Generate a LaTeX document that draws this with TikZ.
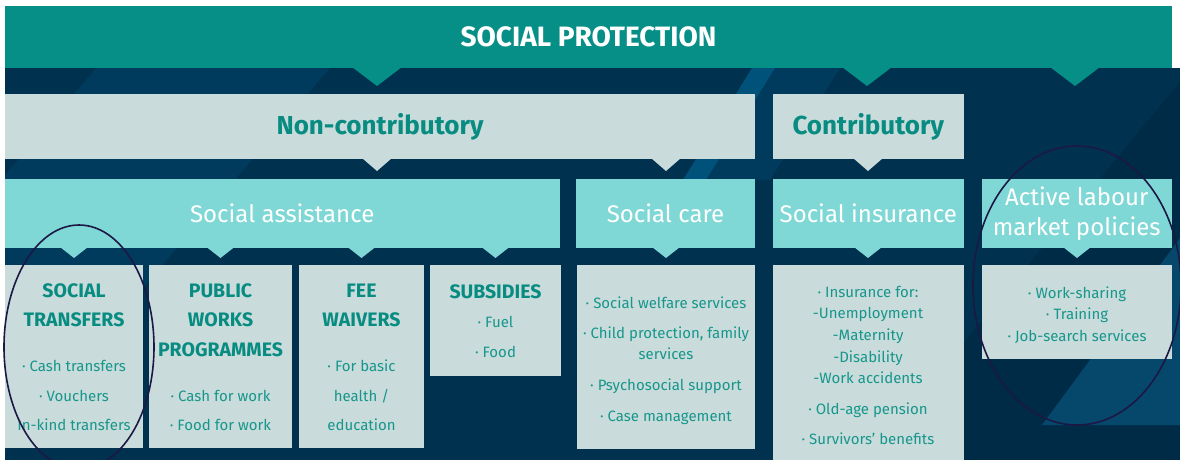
\documentclass[tikz,border=0pt]{standalone}
\usepackage{fontspec}
\setmainfont{Fira Sans}
\definecolor{banner}{RGB}{6,143,135}
\definecolor{navy}{RGB}{0,50,80}
\definecolor{navyd}{RGB}{0,43,71}
\definecolor{navyl}{RGB}{0,58,92}
\definecolor{navyb}{RGB}{0,82,122}
\definecolor{navyt}{RGB}{6,72,108}
\definecolor{pale}{RGB}{201,220,219}
\definecolor{cyanb}{RGB}{127,216,214}
\definecolor{tealtxt}{RGB}{8,140,130}
\definecolor{listtxt}{RGB}{22,150,140}
\definecolor{ringc}{RGB}{28,24,70}
\newcommand\dnptr[5]{\fill[#1] (#2-#4,#3-1) -- (#2+#4,#3-1) -- (#2,#3+#5) -- cycle;}
\begin{document}
\begin{tikzpicture}[x=1pt,y=-1pt,
  box/.style={draw=none, inner sep=0pt, outer sep=0pt, anchor=north west},
  palebox/.style={box, fill=pale, text=tealtxt, font=\bfseries\fontsize{26}{30}\selectfont},
  cyanbox/.style={box, fill=cyanb, text=white, font=\fontsize{24}{30}\selectfont, align=center},
  listbox/.style={box, fill=pale},
  lst/.style={text=listtxt, font=\fontsize{15}{17}\selectfont, anchor=base, inner sep=0pt},
  hd/.style={text=tealtxt, font=\bfseries\fontsize{19.5}{22}\selectfont, anchor=base, inner sep=0pt},
  ring/.style={draw=ringc, line width=1.6pt}]
\useasboundingbox (0,0) rectangle (1180,460);
% background
\fill[navy] (5,68) rectangle (1180,460);
\begin{scope}
\clip (5,68) rectangle (1180,460);
\fill[navyl] (96,68) -- (330,68) -- (-3,460) -- (-237,460) -- cycle;
\fill[navyl] (775,68) -- (840,68) -- (770,180) -- (706,180) -- cycle;
\fill[navyb] (752,68) -- (775,68) -- (706,180) -- (683,180) -- cycle;
\fill[navyd] (1180,82) -- (866,460) -- (1180,460) -- cycle;
\fill[navyt] (1042,425) -- (1180,425) -- (1180,238) -- cycle;
\end{scope}
% top banner
\node[box, fill=banner, text=white, font=\bfseries\fontsize{28}{32}\selectfont,
  minimum width=1167pt, minimum height=62pt] (banner) at (5,6) {SOCIAL PROTECTION};
\dnptr{banner}{377}{68}{25}{18}
\dnptr{banner}{867}{68}{25}{18}
\dnptr{banner}{1075}{68}{25}{18}
% level 2
\node[palebox, minimum width=750pt, minimum height=65pt] (nc) at (5,94) {Non-contributory};
\node[palebox, minimum width=191.5pt, minimum height=65pt] (co) at (772.5,94) {Contributory};
\dnptr{pale}{377}{159}{15}{12}
\dnptr{pale}{666}{159}{15}{12}
\dnptr{pale}{868}{159}{15}{12}
% level 3
\node[cyanbox, minimum width=554.5pt, minimum height=69pt] (sa) at (5,179) {Social assistance};
\node[cyanbox, minimum width=179pt, minimum height=69pt] (sc) at (576,179) {Social care};
\node[cyanbox, minimum width=191.5pt, minimum height=69pt] (si) at (772.5,179) {Social insurance};
\node[cyanbox, minimum width=190.5pt, minimum height=69pt] (al) at (981.5,179) {Active labour\\market policies};
\dnptr{cyanb}{74}{248}{14}{10}
\dnptr{cyanb}{220.5}{248}{14}{10}
\dnptr{cyanb}{361.5}{248}{14}{10}
\dnptr{cyanb}{495.5}{248}{14}{10}
\dnptr{cyanb}{666}{248}{14}{10}
\dnptr{cyanb}{868}{248}{14}{10}
\dnptr{cyanb}{1077}{248}{14}{10}
% level 4 boxes
\node[listbox, minimum width=138pt, minimum height=183pt] (st) at (5,265) {};
\node[listbox, minimum width=143pt, minimum height=183pt] (pw) at (149,265) {};
\node[listbox, minimum width=125pt, minimum height=183pt] (fw) at (299,265) {};
\node[listbox, minimum width=131pt, minimum height=111pt] (sb) at (430,265) {};
\node[listbox, minimum width=178pt, minimum height=184pt] (scl) at (577,265) {};
\node[listbox, minimum width=191.5pt, minimum height=196pt] (sil) at (772.5,265) {};
\node[listbox, minimum width=190.5pt, minimum height=94pt] (all) at (981.5,265) {};
% texts
\foreach \yy/\lbl [count=\i] in {297.5/SOCIAL, 326.5/TRANSFERS}
  \node[hd] (sth\i) at (74,\yy) {\lbl};
\foreach \yy/\lbl [count=\i] in {371/{· Cash transfers}, 401/{· Vouchers}, 430/{In-kind transfers}}
  \node[lst] (stl\i) at (74,\yy) {\lbl};
\foreach \yy/\lbl [count=\i] in {297.5/PUBLIC, 326.5/WORKS, 356.5/PROGRAMMES}
  \node[hd] (pwh\i) at (220.5,\yy) {\lbl};
\foreach \yy/\lbl [count=\i] in {401/{· Cash for work}, 430/{· Food for work}}
  \node[lst] (pwl\i) at (220.5,\yy) {\lbl};
\foreach \yy/\lbl [count=\i] in {297.5/FEE, 326.5/WAIVERS}
  \node[hd] (fwh\i) at (361.5,\yy) {\lbl};
\foreach \yy/\lbl [count=\i] in {371/{· For basic}, 401/{health /}, 430/{education}}
  \node[lst] (fwl\i) at (361.5,\yy) {\lbl};
\node[hd] (sbh) at (495.5,298.5) {SUBSIDIES};
\foreach \yy/\lbl [count=\i] in {327/{· Fuel}, 357/{· Food}}
  \node[lst] (sbl\i) at (495.5,\yy) {\lbl};
\foreach \yy/\lbl [count=\i] in {308/{· Social welfare services}, 338/{· Child protection, family}, 359/{services}, 390/{· Psychosocial support}, 421/{· Case management}}
  \node[lst] (scl\i) at (666,\yy) {\lbl};
\foreach \yy/\lbl [count=\i] in {297/{· Insurance for:}, 318/{-Unemployment}, 340/{-Maternity}, 362/{-Disability}, 383/{-Work accidents}, 414/{· Old-age pension}, 444/{· Survivors’ benefits}}
  \node[lst] (sil\i) at (868,\yy) {\lbl};
\foreach \yy/\lbl [count=\i] in {298/{· Work-sharing}, 319/{· Training}, 341/{· Job-search services}}
  \node[lst] (all\i) at (1077,\yy) {\lbl};
% highlight rings
\begin{scope}
\clip (0,0) rectangle (1180,460);
\draw[ring] (79,347) ellipse [x radius=75, y radius=122];
\draw[ring] (1077,285.5) ellipse [x radius=104, y radius=139.5];
\end{scope}
\end{tikzpicture}
\end{document}
